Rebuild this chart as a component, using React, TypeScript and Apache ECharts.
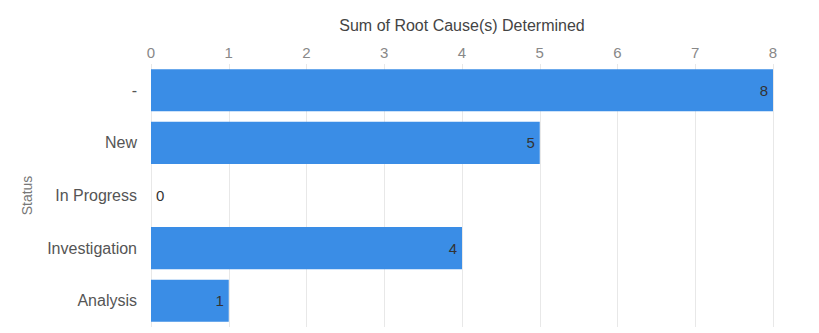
import React, { useEffect, useRef } from "react";
import * as echarts from "echarts";

const categories = ["-", "New", "In Progress", "Investigation", "Analysis"];
const values = [8, 5, 0, 4, 1];
const xAxisTitle = "Sum of Root Cause(s) Determined";
const yAxisTitle = "Status";

export default function App() {
  const ref = useRef<HTMLDivElement>(null);
  useEffect(() => {
    if (!ref.current) return;
    const chart = echarts.init(ref.current, null, { renderer: "svg" });
    const font = "'Liberation Sans', Arial, sans-serif";
    chart.setOption({
      animation: false,
      grid: { left: 151, right: 46, top: 64, bottom: 6 },
      xAxis: {
        type: "value",
        position: "top",
        min: 0,
        max: 8,
        interval: 1,
        name: xAxisTitle,
        nameLocation: "middle",
        nameGap: 31,
        nameTextStyle: { color: "#444", fontSize: 16, fontFamily: font },
        axisLine: { show: false },
        axisTick: { show: false },
        axisLabel: { color: "#888", fontSize: 15, fontFamily: font, margin: 4 },
        splitLine: { show: true, lineStyle: { color: "#e8e8e8", width: 1 } },
      },
      yAxis: {
        type: "category",
        inverse: true,
        data: categories,
        name: yAxisTitle,
        nameLocation: "middle",
        nameGap: 117,
        nameTextStyle: { color: "#777", fontSize: 14, fontFamily: font },
        axisLine: { show: false },
        axisTick: { show: false },
        axisLabel: { color: "#555", fontSize: 16, fontFamily: font, margin: 14 },
        splitLine: { show: false },
      },
      series: [
        {
          type: "bar",
          barWidth: "80%",
          itemStyle: { color: "#3a8de6" },
          label: {
            show: true,
            position: "insideRight",
            distance: 5,
            color: "#333",
            fontSize: 15,
            fontFamily: font,
          },
          data: values.map((v) =>
            v === 0
              ? { value: v, label: { position: "right", distance: 5 } }
              : { value: v }
          ),
        },
      ],
    });
    return () => chart.dispose();
  }, []);
  return (
    <div
      ref={ref}
      style={{ position: "fixed", left: 0, top: 0, width: 819, height: 333, background: "#fff" }}
    />
  );
}
